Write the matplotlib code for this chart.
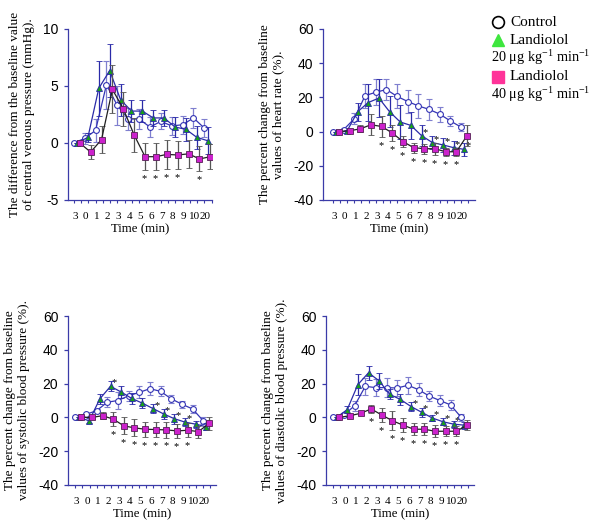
import numpy as np
import matplotlib
matplotlib.use("Agg")
import matplotlib.pyplot as plt
from matplotlib.lines import Line2D

plt.rcParams['mathtext.fontset'] = 'custom'
plt.rcParams['mathtext.rm'] = 'Liberation Serif'
plt.rcParams['mathtext.it'] = 'Liberation Serif:italic'

# ---------------- data ----------------
tick_labels = ["3", "0", "1", "2", "3", "4", "5", "6", "7", "8", "9", "10", "20"]

# Central venous pressure (difference, mmHg)
cvp_ctrl = [0, 0.4, 1.1, 5.1, 3.3, 2.1, 2.1, 1.4, 1.9, 1.5, 1.6, 2.2, 1.3]
cvp_ctrl_se = [0, 0.5, 1.0, 2.1, 1.7, 1.0, 0.9, 0.9, 0.7, 0.8, 0.8, 0.9, 0.8]
cvp_l20 = [0, 0.5, 4.8, 6.35, 3.8, 2.8, 2.8, 2.2, 2.2, 1.4, 1.2, 0.5, 0.2]
cvp_l20_se = [0, 0.4, 2.4, 2.3, 1.4, 1.0, 1.0, 0.7, 0.7, 0.9, 1.0, 1.0, 1.2]
cvp_l40 = [0, -0.8, 0.3, 4.7, 3.0, 0.7, -1.2, -1.2, -1.0, -1.05, -0.95, -1.4, -1.2]
cvp_l40_se = [0, 0.6, 1.2, 2.1, 1.5, 1.5, 1.2, 1.2, 1.3, 1.2, 1.2, 1.1, 1.1]
cvp_star_l40 = [6, 7, 8, 9, 11]
cvp_star_l20 = []

# Heart rate (% change)
hr_ctrl = [0, 1.2, 7.6, 21, 23, 24.6, 20.6, 17.6, 15, 13, 10.2, 6.2, 2.6]
hr_ctrl_se = [0, 1, 3, 7, 7.5, 6, 7, 7, 7, 6, 4.4, 2.8, 2.4]
hr_l20 = [0, 0.2, 11.6, 17, 19.6, 11.6, 5.6, 3.6, -2.4, -6.4, -7.8, -9.4, -10.4]
hr_l20_se = [0, 1, 5.4, 11, 11, 9, 10, 8, 6, 4, 4, 4, 4]
hr_l40 = [0, 0.5, 1.6, 4, 3, -0.8, -5.8, -9.4, -10, -10, -11.8, -11.8, -2.4]
hr_l40_se = [0, 1, 2, 6, 6, 4.5, 3, 3, 3, 3.5, 2.5, 2.5, 6]
hr_star_l40 = [4, 5, 6, 7, 8, 9, 10, 11]
hr_star_l20 = [8, 9, 10, 11, 12]

# Systolic blood pressure (% change)
sbp_ctrl = [0.4, 1.8, 4, 9, 10, 12.8, 14.8, 17, 15.4, 11, 7.8, 5, -2]
sbp_ctrl_se = [0, 1, 1, 3, 5, 3, 3.5, 4, 3, 2.5, 2, 2.5, 2]
sbp_l20 = [0, -2, 11, 18.4, 15, 11.2, 8.4, 5.2, 2, -0.8, -2.8, -4, -5.6]
sbp_l20_se = [0, 1.5, 3, 3, 3.5, 3, 2.8, 2.5, 3, 3, 2.5, 2, 2]
sbp_l40 = [0, 0, 1, -1, -5, -6.2, -7, -7.2, -7.4, -8, -7.6, -8.4, -3.6]
sbp_l40_se = [0, 1, 2, 4, 5, 5, 4.5, 4.5, 4.5, 4, 4, 3.5, 4]
sbp_star_l40 = [3, 4, 5, 6, 7, 8, 9, 10]
sbp_star_l20 = [3, 7, 8, 9, 10]

# Diastolic blood pressure (% change)
dbp_ctrl = [0.4, 1.4, 7, 18.4, 17.6, 17.6, 17.4, 19, 16.4, 12.6, 10, 7.4, 0]
dbp_ctrl_se = [0, 1, 3, 5, 5, 5.5, 4.5, 5, 4, 3, 3, 3, 2]
dbp_l20 = [0, 4.6, 19.4, 26.4, 21.6, 13.6, 10.6, 6.4, 3, -0.4, -2.6, -4, -4.6]
dbp_l20_se = [0, 2, 6, 4, 4.5, 3, 3, 2.5, 2.5, 2, 2, 2, 2]
dbp_l40 = [0, 1, 2.4, 5, 1.4, -2, -4.6, -7, -7, -8.2, -8.2, -8.2, -4.6]
dbp_l40_se = [0, 1, 1, 2.5, 4, 5.5, 4, 3.5, 3.5, 3.5, 3, 3, 3]
dbp_star_l40 = [3, 4, 5, 6, 7, 8, 9, 10, 11]
dbp_star_l20 = [7, 8, 9, 10, 11]

# ---------------- style ----------------
AX_BLUE = "#3b3ba8"
CTRL_LINE = "#3535b5"
CTRL_ERR = "#7f7fcf"
L20_LINE = "#2a2aa8"
L20_FACE = "#18a018"
L40_LINE = "#202020"
L40_FACE = "#cc22cc"
L40_ERR = "#555555"

fig = plt.figure(figsize=(6, 5.23), dpi=100)

panels = [
    dict(rect=[68/600, 1-200/523, 144/600, 171/523], xlim=(-0.53, 12.7), ylim=(-5, 10),
         yticks=[-5, 0, 5, 10],
         ylabel="The difference from the baseline value\nof central venous pressure (mmHg).",
         data=(cvp_ctrl, cvp_ctrl_se, cvp_l20, cvp_l20_se, cvp_l40, cvp_l40_se),
         s40=cvp_star_l40, s20=cvp_star_l20),
    dict(rect=[323/600, 1-200/523, 152/600, 171/523], xlim=(-0.94, 13.3), ylim=(-40, 60),
         yticks=[-40, -20, 0, 20, 40, 60],
         ylabel="The percent change from baseline\nvalues of heart rate (%).",
         data=(hr_ctrl, hr_ctrl_se, hr_l20, hr_l20_se, hr_l40, hr_l40_se),
         s40=hr_star_l40, s20=hr_star_l20),
    dict(rect=[68/600, 1-485/523, 148/600, 169/523], xlim=(-0.69, 13.2), ylim=(-40, 60),
         yticks=[-40, -20, 0, 20, 40, 60],
         ylabel="The percent change from baseline\nvalues of systolic blood pressure (%).",
         data=(sbp_ctrl, sbp_ctrl_se, sbp_l20, sbp_l20_se, sbp_l40, sbp_l40_se),
         s40=sbp_star_l40, s20=sbp_star_l20),
    dict(rect=[326/600, 1-485/523, 148/600, 169/523], xlim=(-0.69, 13.2), ylim=(-40, 60),
         yticks=[-40, -20, 0, 20, 40, 60],
         ylabel="The percent change from baseline\nvalues of diastolic blood pressure (%).",
         data=(dbp_ctrl, dbp_ctrl_se, dbp_l20, dbp_l20_se, dbp_l40, dbp_l40_se),
         s40=dbp_star_l40, s20=dbp_star_l20),
]

n = len(tick_labels)
x = np.arange(n)
serif = ["Liberation Serif", "DejaVu Serif"]
sans = ["Liberation Sans", "DejaVu Sans"]

for p in panels:
    ax = fig.add_axes(p["rect"])
    c, cse, a, ase, b, bse = [np.array(v, float) for v in p["data"]]
    ekw = dict(capsize=2.5, elinewidth=0.9, capthick=0.9, lw=0.9, ms=4.2)
    ax.errorbar(x, c, yerr=cse, fmt='-o', color=CTRL_LINE, ecolor=CTRL_ERR,
                mfc='white', mec=CTRL_LINE, mew=0.8, zorder=3, **ekw)
    ax.errorbar(x + 0.3, a, yerr=ase, fmt='-^', color=L20_LINE, ecolor=L20_LINE,
                mfc=L20_FACE, mec=L20_LINE, mew=0.6, zorder=4, **ekw)
    ax.errorbar(x + 0.55, b, yerr=bse, fmt='-s', color=L40_LINE, ecolor=L40_ERR,
                mfc=L40_FACE, mec="#552255", mew=0.6, zorder=5, **ekw)
    yr = p["ylim"][1] - p["ylim"][0]
    for i in p["s40"]:
        ax.text(x[i] + 0.5, b[i] - bse[i] - 0.05*yr, "*", ha='center', va='center',
                fontsize=7.5, color='black', family=serif)
    for i in p["s20"]:
        ax.text(x[i] + 0.65, a[i] + 0.02*yr, "*", ha='center', va='center',
                fontsize=7.5, color='black', family=serif)

    ax.set_xlim(*p["xlim"])
    ax.set_ylim(*p["ylim"])
    for s in ["top", "right"]:
        ax.spines[s].set_visible(False)
    for s in ["left", "bottom"]:
        ax.spines[s].set_color(AX_BLUE)
        ax.spines[s].set_linewidth(0.9)
    ax.set_yticks(p["yticks"])
    ax.set_yticklabels([str(t) for t in p["yticks"]], family=sans, fontsize=10)
    ax.tick_params(axis='y', colors=AX_BLUE, labelcolor='black', length=3,
                   width=0.9, pad=4)
    ax.set_xticks(np.arange(0, p["xlim"][1], 2/3))
    ax.set_xticklabels([])
    ax.tick_params(axis='x', which='major', colors=AX_BLUE, length=2.5, width=0.8)
    ax.set_xticks(x + 0.1, minor=True)
    ax.set_xticklabels(tick_labels, minor=True, family=serif, fontsize=8)
    ax.tick_params(axis='x', which='minor', length=0, pad=9, labelcolor='black')
    ax.set_xlabel("Time (min)", family=serif, fontsize=9.3, labelpad=1)
    ax.set_ylabel(p["ylabel"], family=serif, fontsize=9.5, labelpad=6, linespacing=1.2)

# ---------------- legend ----------------
H = 523.0
W = 600.0
def fx(px):
    return px / W
def fy(py):
    return 1 - py / H

fig.add_artist(Line2D([fx(498)], [fy(22)], marker='o', ms=8.5, mfc='white', mec='black',
                      mew=1.2, ls='none', transform=fig.transFigure))
fig.add_artist(Line2D([fx(498)], [fy(40)], marker='^', ms=8.5, mfc='#3ee63e', mec='#3ee63e',
                      ls='none', transform=fig.transFigure))
fig.add_artist(Line2D([fx(498)], [fy(77)], marker='s', ms=8, mfc='#ff3399', mec='#ff3399',
                      ls='none', transform=fig.transFigure))
leg_kw = dict(family=serif, fontsize=11, va='center', ha='left')
fig.text(fx(510), fy(22), "Control", **leg_kw)
fig.text(fx(510), fy(40), "Landiolol", **leg_kw)
dose_kw = dict(family=serif, fontsize=10.3, va='center', ha='left')
fig.text(fx(491), fy(58), "20 μg kg$^{\\mathrm{-1}}$ min$^{\\mathrm{-1}}$", **dose_kw)
fig.text(fx(510), fy(77), "Landiolol", **leg_kw)
fig.text(fx(491), fy(95), "40 μg kg$^{\\mathrm{-1}}$ min$^{\\mathrm{-1}}$", **dose_kw)

fig.savefig("out.png", dpi=100)
